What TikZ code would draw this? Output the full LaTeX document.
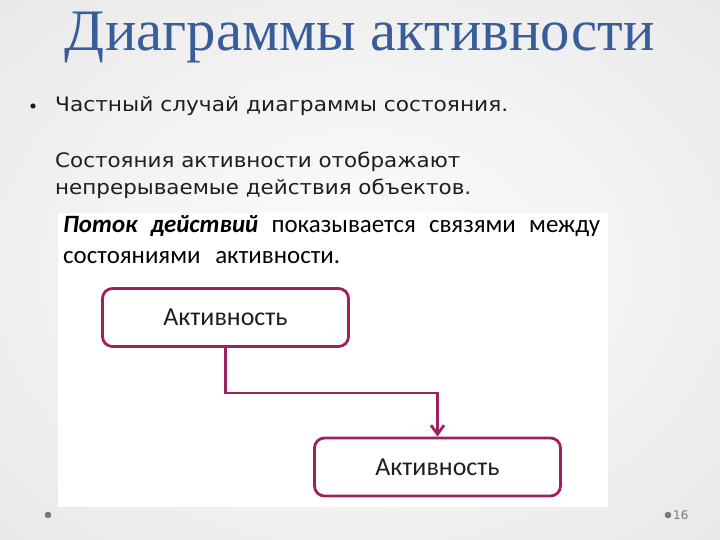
\documentclass[tikz,border=0pt]{standalone}
\usepackage{fontspec}
\usepackage{graphicx}
\setmainfont{Liberation Serif}
\newfontfamily\bodyfont{DejaVu Sans}
\newfontfamily\calfont{Carlito}
\usetikzlibrary{arrows.meta}
\definecolor{titleblue}{RGB}{56,93,154}
\definecolor{berry}{RGB}{158,32,94}
\definecolor{dotgray}{RGB}{120,120,120}
\definecolor{textdark}{RGB}{30,30,30}
\definecolor{bgA}{RGB}{252,252,252}
\definecolor{bgB}{RGB}{243,243,243}
\definecolor{bgC}{RGB}{224,224,224}
\definecolor{bgD}{RGB}{208,208,208}
\pgfdeclareradialshading{bgshade}{\pgfpoint{0bp}{0bp}}{color(0bp)=(bgA); color(18bp)=(bgB); color(50bp)=(bgC); color(71bp)=(bgD)}
\begin{document}
\begin{tikzpicture}[x=1bp,y=-1bp,
  actbox/.style={draw=berry, line width=2.8bp, rounded corners=10bp, fill=white,
    minimum width=246bp, minimum height=58bp, inner sep=0pt,
    font=\calfont\fontsize{26}{30}\selectfont, text=textdark},
  flow/.style={draw=berry, line width=2.8bp, -{Straight Barb[length=9bp,width=13bp]}},
  bodytext/.style={anchor=base west, inner sep=0pt, text=textdark, font=\bodyfont\fontsize{20}{24}\selectfont},
  headtext/.style={anchor=base west, inner sep=0pt, text=black, font=\calfont\fontsize{25}{29}\selectfont},
  footdot/.style={fill=dotgray}
]
\useasboundingbox (0,0) rectangle (720,540);
\shade[shading=bgshade] (0,0) rectangle (720,540);
\fill[white] (58,213) rectangle (608,507);

\node[anchor=base, inner sep=0pt, text=titleblue, font=\fontsize{59}{63}\selectfont] (title) at (360,51) {Диаграммы активности};

\fill[textdark] (33,106) circle (2.6);
\node[bodytext] (l1) at (55,112) {\resizebox{453bp}{\height}{Частный случай диаграммы состояния.}};
\node[bodytext] (l2) at (55,168) {\resizebox{405bp}{\height}{Состояния активности отображают}};
\node[bodytext] (l3) at (55,195) {\resizebox{416bp}{\height}{непрерываемые действия объектов.}};

\node[headtext] (h1) at (63,233) {\makebox[537bp][s]{\textbf{\textit{Поток действий}} показывается связями между}};
\node[headtext] (h2) at (63,264) {\makebox[277bp][s]{состояниями активности.}};

\node[actbox] (a1) at (225.5,317.5) {Активность};
\node[actbox] (a2) at (437.5,467) {Активность};
\draw[flow] (a1.south) -- ++(0,45) -| (a2.north);

\fill[footdot] (48,515) circle (3.3);
\fill[footdot] (668,515) circle (3.3);
\node[anchor=west, inner sep=0pt, text=dotgray, font=\bodyfont\fontsize{12}{14}\selectfont] (pg) at (673,515) {16};
\end{tikzpicture}
\end{document}
